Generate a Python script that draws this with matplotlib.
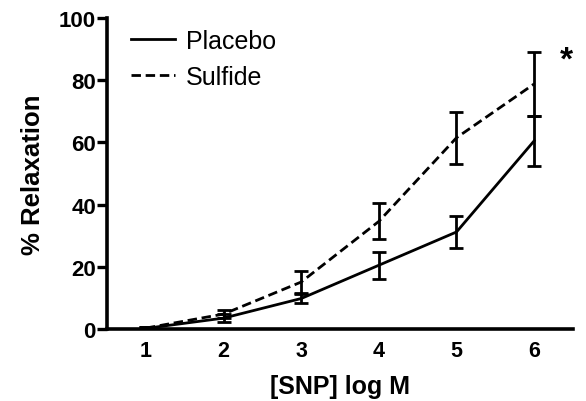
import matplotlib
matplotlib.use("Agg")
import matplotlib.pyplot as plt
from matplotlib.lines import Line2D

plt.rcParams['font.family'] = ['Liberation Sans', 'DejaVu Sans']

x = [1, 2, 3, 4, 5, 6]
placebo = [0.2, 3.5, 9.8, 20.5, 31.2, 60.5]
placebo_err = [0.3, 1.2, 1.6, 4.3, 5.0, 8.0]
sulfide = [0.3, 4.8, 15.1, 34.6, 61.5, 78.8]
sulfide_err = [0.3, 1.4, 3.6, 5.8, 8.3, 10.4]
xticks = [1, 2, 3, 4, 5, 6]
yticks = [0, 20, 40, 60, 80, 100]
labels = ['Placebo', 'Sulfide']

fig = plt.figure(figsize=(5.86, 4.02), dpi=100)
ax = fig.add_axes([107/586, 1-330/402, (573-107)/586, (330-19)/402])

lw = 2.0
dash = (0, (3.4, 1.7))
ax.errorbar(x, placebo, yerr=placebo_err, color='black', lw=lw, ls='-',
            capsize=5.2, capthick=lw, elinewidth=lw)
ax.errorbar(x, sulfide, yerr=sulfide_err, color='black', lw=lw, ls=dash,
            capsize=5.2, capthick=lw, elinewidth=lw)

ax.set_xlim(0.5, 6.5)
ax.set_ylim(0, 100)
ax.set_xticks(xticks)
ax.set_yticks(yticks)
ax.spines['top'].set_visible(False)
ax.spines['right'].set_visible(False)
for s in ['left', 'bottom']:
    ax.spines[s].set_linewidth(2.6)
ax.tick_params(axis='y', length=7, width=2.4, labelsize=16, pad=1)
ax.tick_params(axis='x', length=0, labelsize=15.5, pad=8)
for lab in ax.get_xticklabels() + ax.get_yticklabels():
    lab.set_fontweight('bold')

ax.set_xlabel('[SNP] log M', fontsize=18, fontweight='bold', labelpad=9)
ax.set_ylabel('% Relaxation', fontsize=18.5, fontweight='bold', labelpad=10)

ax.text(6.41, 86.5, '*', fontsize=24, fontweight='bold', ha='center', va='center')

handles = [Line2D([], [], color='black', lw=lw, ls='-'),
           Line2D([], [], color='black', lw=lw, ls=dash)]
leg = ax.legend(handles, labels, loc='upper left', bbox_to_anchor=(131/586, 1-30/402),
                bbox_transform=fig.transFigure, frameon=False, fontsize=18,
                handlelength=1.75, handletextpad=0.45, labelspacing=0.47,
                borderpad=0, borderaxespad=0)

fig.savefig('out.png', dpi=100)
